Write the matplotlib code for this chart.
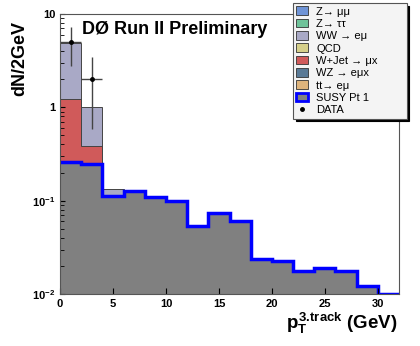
import numpy as np
import matplotlib
matplotlib.use('Agg')
import matplotlib.pyplot as plt
from matplotlib.patches import Patch
from matplotlib.lines import Line2D

plt.rcParams['font.family'] = ['Liberation Sans', 'DejaVu Sans']
plt.rcParams['font.weight'] = 'bold'
plt.rcParams['mathtext.fontset'] = 'custom'
plt.rcParams['mathtext.rm'] = 'Liberation Sans:bold'
plt.rcParams['mathtext.bf'] = 'Liberation Sans:bold'
plt.rcParams['mathtext.it'] = 'Liberation Sans:bold'

# 2 GeV bins from 0 to 32
edges = np.arange(0, 34, 2)
susy = [0.26, 0.245, 0.113, 0.128, 0.110, 0.100, 0.053, 0.074,
        0.060, 0.0239, 0.0225, 0.0177, 0.0188, 0.0176, 0.0122, 0.0101]
wjet = [0.96, 0.143, 0, 0, 0, 0, 0, 0, 0, 0, 0, 0, 0, 0, 0, 0]
ww = [3.7, 0.61, 0.021, 0, 0, 0, 0, 0, 0, 0, 0, 0, 0, 0, 0, 0]

data_x = [1, 3]
data_y = [5, 2]

legend_labels = ['Z→ μμ', 'Z→ ττ', 'WW → eμ', 'QCD', 'W+Jet → μx',
                 'WZ → eμx', 'tt→ eμ']
legend_colors = ['#6f94d6', '#6fc39a', '#a9a9c6', '#d6d08a', '#d05a5a',
                 '#5a7a96', '#deb47c']

susy = np.array(susy)
wjet = np.array(wjet)
ww = np.array(ww)

fig = plt.figure(figsize=(4.2, 3.46), dpi=100)
ax = fig.add_axes([0.143, 0.150, 0.807, 0.810])

# stack: SUSY at the bottom, then W+jet, then WW
lvl1 = susy + wjet
lvl2 = lvl1 + ww
ax.stairs(lvl2, edges, baseline=lvl1, fill=True, color='#a9a9c6')
ax.stairs(lvl2, edges, baseline=lvl1, color='#444444', lw=0.7)
ax.stairs(lvl1, edges, baseline=susy, fill=True, color='#d05a5a')
ax.stairs(lvl1, edges, baseline=susy, color='#444444', lw=0.7)
ax.stairs(susy, edges, baseline=1e-3, fill=True, color='#808080')
ax.stairs(susy, edges, baseline=None, color='#0000ff', lw=2.5)

ax.errorbar(data_x, data_y, yerr=np.sqrt(data_y), xerr=1, fmt='o', ms=2.5,
            color='black', ecolor='#444444', elinewidth=1, capsize=0)

ax.set_yscale('log')
ax.set_ylim(0.01, 10)
ax.set_xlim(0, 32)
ax.set_xticks([0, 5, 10, 15, 20, 25, 30])
ax.set_yticks([0.01, 0.1, 1, 10])
ax.set_yticklabels([r'$10^{-2}$', r'$10^{-1}$', '1', '10'])
ax.tick_params(direction='in', labelsize=8, top=False, right=False)
ax.tick_params(axis='y', which='minor', direction='in', length=3)
ax.tick_params(axis='x', length=4)
for s in ax.spines.values():
    s.set_color('#555555')
    s.set_linewidth(0.8)

ax.text(0.065, 0.975, 'DØ Run II Preliminary', transform=ax.transAxes,
        fontsize=13, fontweight='bold', va='top')

fig.text(0.048, 0.83, 'dN/2GeV', rotation=90, fontsize=13,
         fontweight='bold', ha='center', va='center')
fig.text(0.948, 0.03, r'$p_T^{3.\!track}$ (GeV)', fontsize=13.5,
         fontweight='bold', ha='right', va='bottom')

handles = [Patch(facecolor=c, edgecolor='#333333', lw=0.6) for c in legend_colors]
handles.append(Patch(facecolor='#808080', edgecolor='#0000ff', lw=2))
handles.append(Line2D([], [], marker='o', ms=2.5, color='black', ls='none'))
labels = legend_labels + ['SUSY Pt 1', 'DATA']
leg = fig.legend(handles, labels, loc='upper left', mode='expand',
                 bbox_to_anchor=(0.698, 0.6, 0.27, 0.391), fontsize=8,
                 frameon=True, fancybox=False, shadow={'color': 'black', 'alpha': 1},
                 edgecolor='#555555', framealpha=1, handlelength=1.0,
                 handleheight=0.8, labelspacing=0.2, borderpad=0.3,
                 handletextpad=0.8, borderaxespad=0)
for t in leg.get_texts():
    t.set_fontweight('normal')
leg.get_frame().set_linewidth(0.8)
leg.get_frame().set_facecolor('#f4f4f4')

fig.savefig('out.png', dpi=100)
